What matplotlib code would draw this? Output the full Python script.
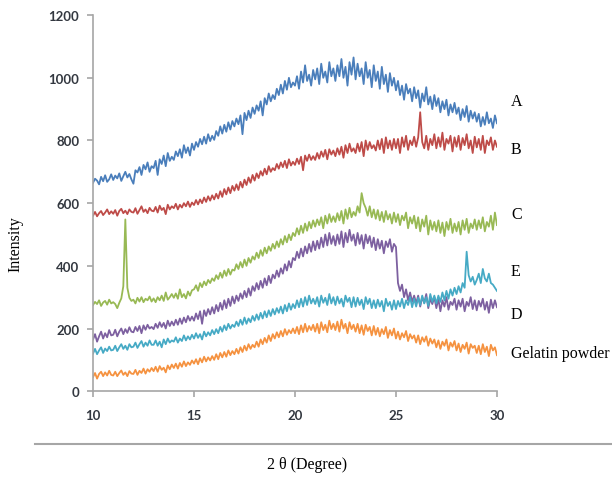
import numpy as np
import matplotlib.pyplot as plt
from matplotlib.lines import Line2D

# 2-theta grid, 0.1 degree steps from 10 to 30
two_theta = np.linspace(10, 30, 201)

# intensities (10 values per degree, then the value at 30)
A = [665, 678, 672, 660, 684, 670, 689, 668, 676, 692,
     674, 688, 679, 695, 671, 686, 700, 682, 693, 676,
     662, 705, 698, 715, 690, 722, 708, 730, 700, 718,
     712, 735, 690, 740, 725, 752, 718, 760, 735, 748,
     738, 765, 750, 772, 745, 785, 760, 778, 752, 790,
     770, 795, 780, 805, 788, 812, 790, 820, 798, 815,
     802, 830, 815, 845, 822, 850, 828, 858, 835, 862,
     845, 870, 852, 880, 820, 888, 865, 895, 872, 905,
     885, 912, 895, 925, 880, 935, 915, 950, 925, 945,
     932, 965, 945, 978, 950, 990, 962, 1000, 970, 985,
     975, 1005, 965, 1020, 985, 1040, 990, 1010, 975, 1025,
     995, 1030, 980, 1045, 1000, 1020, 985, 1050, 1005, 1030,
     990, 1040, 1005, 1060, 1000, 1035, 975, 1050, 1010, 1065,
     995, 1045, 1005, 1030, 980, 1050, 1000, 1025, 970, 1040,
     990, 1020, 965, 1035, 980, 1010, 955, 1015, 975, 1000,
     960, 990, 945, 975, 930, 980, 950, 965, 925, 970,
     935, 960, 905, 950, 925, 970, 915, 940, 900, 945,
     910, 935, 890, 925, 900, 930, 880, 915, 890, 920,
     885, 905, 865, 900, 875, 910, 860, 895, 870, 890,
     860, 885, 845, 875, 850, 890, 855, 870, 840, 880,
     855]

B = [560, 572, 558, 568, 575, 562, 570, 580, 565, 574,
     566, 578, 560, 575, 582, 568, 576, 565, 580, 572,
     570, 584, 566, 578, 590, 572, 580, 568, 585, 576,
     574, 588, 570, 592, 578, 585, 565, 595, 580, 590,
     584, 598, 580, 595, 586, 600, 590, 605, 588, 602,
     594, 610, 596, 612, 600, 618, 604, 622, 608, 625,
     612, 630, 615, 638, 620, 645, 628, 650, 632, 655,
     640, 660, 642, 668, 650, 675, 658, 682, 665, 690,
     672, 695, 680, 702, 688, 710, 692, 718, 700, 712,
     705, 725, 710, 730, 715, 735, 712, 740, 720, 732,
     722, 742, 725, 748, 705, 752, 735, 755, 738, 750,
     738, 760, 742, 765, 748, 770, 740, 772, 755, 768,
     750, 775, 755, 780, 745, 785, 760, 790, 765, 775,
     760, 790, 765, 795, 750, 800, 770, 795, 775, 785,
     768, 800, 772, 805, 760, 810, 775, 800, 770, 805,
     775, 805, 760, 810, 780, 815, 770, 800, 785, 812,
     780, 810, 890, 795, 775, 815, 770, 805, 785, 820,
     775, 810, 780, 825, 770, 805, 790, 815, 765, 810,
     780, 815, 770, 808, 785, 820, 775, 800, 760, 812,
     778, 805, 770, 815, 760, 800, 785, 810, 770, 800,
     780]

C = [275, 285, 278, 290, 272, 283, 288, 276, 292, 280,
     284, 278, 265, 282, 296, 335, 548, 330, 298, 288,
     292, 280, 298, 286, 300, 284, 295, 290, 302, 286,
     296, 284, 300, 290, 305, 288, 315, 292, 300, 310,
     298, 312, 295, 325, 300, 310, 296, 318, 305, 322,
     325, 338, 320, 345, 332, 350, 338, 355, 345, 360,
     352, 370, 358, 378, 362, 385, 368, 390, 372, 388,
     385, 405, 390, 412, 395, 420, 400, 425, 410, 430,
     420, 442, 425, 450, 432, 458, 440, 462, 448, 470,
     455, 478, 460, 485, 468, 495, 475, 500, 482, 505,
     495, 520, 500, 528, 505, 535, 512, 540, 520, 545,
     525, 548, 530, 555, 520, 560, 535, 565, 540, 558,
     540, 568, 545, 575, 535, 580, 550, 585, 555, 572,
     560, 590, 570, 632, 600, 585, 560, 590, 555, 580,
     550, 578, 545, 572, 540, 575, 548, 565, 535, 570,
     540, 565, 530, 560, 545, 570, 520, 555, 535, 560,
     520, 555, 510, 548, 525, 560, 500, 545, 515, 540,
     510, 545, 505, 538, 495, 540, 515, 550, 505, 535,
     510, 540, 500, 545, 515, 550, 505, 535, 520, 548,
     515, 545, 520, 555, 510, 540, 525, 560, 515, 570,
     530]

E = [165, 182, 158, 175, 190, 168, 185, 172, 195, 178,
     180, 196, 175, 190, 200, 182, 198, 186, 204, 190,
     188, 205, 192, 208, 185, 210, 196, 212, 200, 205,
     198, 215, 202, 220, 205, 218, 200, 225, 208, 222,
     210, 228, 212, 232, 215, 235, 220, 240, 225, 238,
     225, 248, 230, 255, 215, 258, 240, 262, 245, 268,
     248, 275, 255, 282, 260, 290, 265, 295, 272, 302,
     280, 305, 288, 312, 295, 320, 300, 328, 305, 335,
     320, 345, 325, 352, 330, 360, 338, 368, 345, 372,
     360, 385, 365, 392, 375, 405, 385, 415, 395, 425,
     418, 445, 425, 455, 430, 462, 440, 470, 445, 478,
     450, 480, 455, 490, 460, 500, 465, 505, 470, 495,
     465, 500, 470, 510, 460, 505, 475, 515, 480, 500,
     465, 505, 470, 498, 455, 500, 472, 495, 460, 490,
     450, 485, 455, 480, 440, 478, 460, 485, 445, 470,
     460, 345, 320, 340, 300, 325, 290, 315, 285, 305,
     280, 305, 270, 300, 282, 310, 265, 295, 278, 300,
     265, 295, 255, 290, 270, 300, 260, 285, 275, 295,
     260, 290, 270, 295, 255, 285, 272, 300, 262, 290,
     258, 288, 270, 295, 260, 285, 250, 292, 265, 290,
     268]

D = [120, 135, 118, 130, 140, 122, 136, 128, 142, 130,
     132, 145, 128, 140, 150, 135, 145, 132, 150, 140,
     142, 155, 138, 150, 160, 142, 155, 145, 162, 148,
     148, 162, 145, 158, 140, 165, 150, 168, 155, 162,
     158, 172, 155, 168, 160, 178, 162, 175, 165, 180,
     168, 185, 170, 182, 165, 190, 175, 188, 178, 195,
     182, 198, 185, 205, 190, 210, 195, 215, 200, 212,
     205, 222, 208, 228, 212, 235, 215, 232, 220, 240,
     225, 245, 228, 250, 232, 255, 236, 258, 240, 262,
     245, 265, 250, 270, 248, 275, 255, 280, 260, 278,
     265, 290, 268, 295, 270, 300, 275, 305, 280, 295,
     278, 300, 270, 305, 282, 298, 275, 310, 280, 300,
     275, 302, 280, 295, 270, 305, 285, 298, 268, 300,
     270, 298, 275, 292, 262, 300, 278, 295, 265, 290,
     265, 292, 270, 288, 255, 295, 272, 285, 260, 290,
     262, 288, 270, 295, 265, 290, 275, 300, 268, 295,
     270, 298, 275, 305, 280, 300, 272, 310, 285, 305,
     280, 305, 285, 315, 290, 320, 295, 325, 305, 330,
     310, 335, 315, 345, 330, 445, 370, 350, 365, 340,
     355, 375, 345, 390, 360, 350, 375, 345, 340, 330,
     320]

gelatin = [45, 58, 40, 55, 62, 48, 60, 50, 65, 52,
           50, 62, 48, 58, 66, 52, 60, 48, 64, 56,
           55, 68, 52, 65, 58, 72, 56, 70, 62, 74,
           64, 78, 62, 80, 68, 75, 60, 82, 70, 85,
           74, 88, 72, 90, 78, 95, 80, 92, 84, 98,
           88, 102, 86, 105, 92, 110, 95, 108, 98, 112,
           100, 118, 102, 122, 108, 125, 110, 130, 115, 128,
           118, 135, 120, 140, 125, 145, 130, 150, 135, 148,
           140, 158, 142, 165, 150, 170, 155, 178, 160, 182,
           168, 188, 172, 192, 175, 198, 180, 195, 185, 200,
           185, 205, 182, 210, 188, 215, 190, 208, 195, 212,
           190, 215, 185, 220, 195, 212, 188, 225, 198, 215,
           195, 222, 190, 228, 200, 215, 185, 220, 198, 212,
           190, 215, 185, 210, 180, 212, 192, 205, 178, 208,
           180, 202, 175, 198, 182, 205, 170, 195, 178, 200,
           168, 190, 165, 185, 172, 192, 160, 182, 168, 178,
           155, 178, 150, 172, 158, 175, 145, 168, 152, 165,
           140, 162, 135, 158, 145, 165, 130, 155, 142, 160,
           130, 152, 125, 148, 135, 155, 120, 150, 138, 145,
           122, 145, 118, 150, 125, 142, 112, 148, 130, 140,
           115]

series = [
    ("A", A, "#4A7EBB", 926),
    ("B", B, "#BE4B48", 772),
    ("C", C, "#98B954", 565),
    ("E", E, "#7D60A0", 383),
    ("D", D, "#46AAC5", 246),
    ("Gelatin powder", gelatin, "#F59240", 121),
]

fig = plt.figure(figsize=(6.12, 4.89), dpi=100)
ax = fig.add_axes([0.152, 0.198, 0.660, 0.769])

for name, vals, color, label_y in series:
    ax.plot(two_theta, vals, color=color, lw=1.3)
    ax.text(30.7, label_y, name, ha="left", va="center", fontsize=11.5,
            family="Liberation Serif", color="black", clip_on=False)

ax.set_xlim(10, 30)
ax.set_ylim(0, 1200)
ax.set_xticks([10, 15, 20, 25, 30])
ax.set_yticks(range(0, 1201, 200))

for side in ["top", "right"]:
    ax.spines[side].set_visible(False)
for side in ["left", "bottom"]:
    ax.spines[side].set_color("#a6a6a6")
    ax.spines[side].set_linewidth(1.2)

ax.tick_params(direction="out", length=4, width=1.2, color="#a6a6a6",
               labelsize=9.5, labelcolor="#333840")
ax.tick_params(axis="x", pad=9)
ax.tick_params(axis="y", pad=6)
for lab in ax.get_xticklabels() + ax.get_yticklabels():
    lab.set_family("Lato")
    lab.set_fontweight("bold")

fig.text(0.025, 0.50, "Intensity", rotation=90, ha="center", va="center",
         fontsize=11.5, family="Liberation Serif")
fig.text(0.502, 0.049, "2 θ (Degree)", ha="center", va="center",
         fontsize=11.5, family="Liberation Serif")

# separator line under the plot
fig.add_artist(Line2D([0.057, 1.0], [0.090, 0.090], color="#a6a6a6", lw=1.5))

fig.savefig("out.png", dpi=100)
